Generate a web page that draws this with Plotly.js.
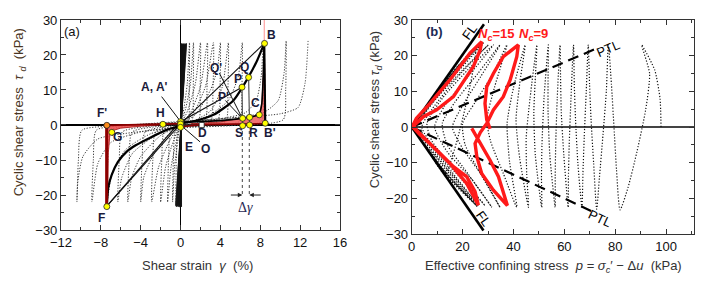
<!DOCTYPE html>
<html><head><meta charset="utf-8">
<script src="https://cdn.plot.ly/plotly-3.0.1.min.js"></script>
<style>html,body{margin:0;padding:0;background:#fff}#chart{width:709px;height:289px}</style>
</head><body><div id="chart"></div>
<script>
// ================= Panel (a): shear strain vs cyclic shear stress =================
// dense early cycles near the origin (gamma %, tau kPa)
const coreGamma = [0.00, 0.02, 0.10, 0.06, 0.05, 0.10, 0.00, 0.14, -0.05, 0.18, -0.10, 0.22, -0.14, 0.26, -0.18, 0.30, -0.22, 0.35, -0.27, 0.40, -0.32, 0.45, -0.37, 0.50, -0.42, 0.55, -0.47, 0.60, -0.50];
const coreTau   = [0, 23.2, -23.4, 23.0, -23.2, 23.3, -23.0, 23.1, -23.5, 23.2, -23.3, 23.0, -23.1, 23.3, -23.4, 23.1, -23.0, 23.2, -23.3, 23.0, -23.2, 23.3, -23.1, 23.1, -23.4, 23.2, -23.0, 23.3, -23.0];

// later hysteresis loops [gamma, tau]
const loopPath = [
  [-0.5,-23],
  [-0.42,-10],[-0.3,-2],[0,0],[0.35,5],[0.68,12],[0.9,23.5],
  [0.87,10],[0.76,1],[0,-0.2],[-0.3,-5],[-0.6,-12],[-0.8,-22],
  [-0.72,-10],[-0.55,-2],[0,0.1],[0.5,4.5],[1.0,12],[1.3,23.5],
  [1.27,10],[1.12,1],[0,-0.2],[-0.45,-5],[-0.95,-12],[-1.3,-22],
  [-1.2,-10],[-1.0,-2],[0,0.2],[0.7,4],[1.5,12],[2.0,23.5],
  [1.96,10],[1.8,1],[0,-0.3],[-0.7,-4.5],[-1.5,-12],[-2.0,-22],
  [-1.88,-10],[-1.65,-2],[0,0.3],[1.0,3.5],[2.0,11],[2.7,23.5],
  [2.65,10],[2.45,1],[0,-0.3],[-1.0,-4],[-2.2,-12],[-2.9,-22],
  [-2.78,-10],[-2.5,-2],[0,0.3],[1.2,3],[2.5,11],[3.3,23.5],
  [3.25,10],[3.0,1],[0,-0.4],[-1.5,-3.5],[-3,-10],[-3.7,-15],[-4.0,-22],
  [-3.85,-10],[-3.55,-2],[0,0.4],[1.5,3],[3.0,10],[3.7,16],[4.0,23.5],
  [3.95,10],[3.7,1],[0,-0.4],[-2,-3],[-4,-9],[-4.9,-15],[-5.3,-22],
  [-5.15,-10],[-4.85,-2],[-1,0],[1,0.8],[3,4],[4.2,11],[4.8,23.5],
  [4.75,10],[4.5,1],[0,-0.5],[-2.5,-3],[-4.8,-8],[-5.9,-15],[-6.3,-22],
  [-6.15,-10],[-5.85,-2],[-2,0],[1,0.8],[3,3],[4.8,7],[5.8,14],[6.2,23.5],
  [6.15,10],[5.9,1],[2,-0.3],[0,-0.5],[-3,-2.5],[-5.5,-7],[-6.9,-14],[-7.4,-22.5],
  [-7.3,-10],[-7.05,-1.5],[-4,0.1],[0,0.7],[4,1.8],[6.5,3.5],[7.6,7],[8.1,14],[8.3,23.5],
  [8.28,10],[8.1,1],[4,-0.2],[0,-0.6],[-4,-2],[-7,-5],[-8.3,-11],[-8.9,-22],
  [-8.75,-10],[-8.45,-1.5],[-5,0],[0,0.8],[5,2],[8.3,3.5],[9.8,7],[10.4,15],[10.6,24],
  [10.55,10],[10.3,1.5],[5,-0.2],[0,-0.8],[-5,-2.2],[-8.3,-4],[-9.8,-9],[-10.3,-16],[-10.4,-22],
  [-10.25,-10],[-9.9,-1.5],[-6,-0.2],[0,1],[6,2.2],[10,3.2],[11.8,5],[12.5,12],[12.8,24]
];

// highlighted cycle F -> F' -> ... -> B -> B'
const redLeftArea  = [[-7.45,-0.1],[-4,0.1],[-1.8,0.25],[-1.8,0.05],[-4,-0.35],[-6,-0.9],[-6.8,-1.6],[-7.1,-3],[-7.25,-8],[-7.3,-20],[-7.4,-23.2],[-7.52,-23.2],[-7.52,-0.1]];
const redRightArea = [[1,0.3],[4,0.9],[6.2,2.0],[7.4,2.6],[7.9,3.1],[8.15,6],[8.3,14],[8.4,23.3],[8.47,12],[8.5,0.4],[5,0.3],[1,0.3]];
const pathFF = [[-7.4,-23.2],[-7.4,-0.1]];
const pathFH = [[-7.4,-0.1],[-4,0.1],[-1.8,0.2],[0,0.4]];
const pathBDE = [[8.5,0.4],[5,0.3],[2.1,0.05],[0,-0.5]];
const pathAC_B = [[0,0.8],[3,1.1],[6.2,1.9],[7.4,2.5],[7.9,3.0],[8.15,6],[8.3,14],[8.4,23.3]];
const pathBB = [[8.4,23.3],[8.45,10],[8.5,0.4]];
const redAboveB = [[8.4,23.3],[8.4,30]];
const curveEF = [[0,-0.3],[-1.4,-1.4],[-3.1,-3.7],[-4.5,-5.8],[-5.4,-7.6],[-6.3,-10.6],[-6.9,-14.2],[-7.25,-17.8],[-7.4,-23.2]];
const curveOB = [[0,0.5],[1.5,1.2],[3.3,2.9],[5.3,7.0],[6.8,13.6],[7.7,18.5],[8.4,23.3]];
const secantF1 = [[-7.4,-23.2],[0,0.3]];
const secantF2 = [[-7.4,-23.2],[0,1.1]];
const secantB1 = [[8.4,23.3],[0,0.3]];
const secantP  = [[0,0.9],[6.17,10.8]];
const vertS = [[6.23,-0.2],[6.17,10.8]];
const vertR = [[6.93,0],[6.83,13.6]];
const dropS = [[6.2,0],[6.2,-20.5]];
const dropR = [[6.9,0],[6.9,-20.5]];
const leaderQ = [[3.9,14.8],[6.2,1.9]];
const leaderP = [[4.5,7.0],[6.1,2.2]];
const leaderA = [[-1.9,8.1],[0,1.0]];
const leaderO = [[1.95,-4.8],[0,0]];

const yellowPts = [[8.43,23.3],[-7.4,-23.3],[-6.9,-2.1],[-1.77,0.2],[0,0.95],[0,0.3],[0,-0.67],[6.23,-0.2],[6.23,1.9],[6.93,0],[6.93,2.2],[7.9,2.9],[8.5,0.5],[6.17,10.8],[6.83,13.6]];
const orangePts = [[-7.4,-0.1]];
const whitePts = [[2.12,0]];
const ptLabels = [
  ['B',9.15,25.7],["B'",9.0,-2.4],['C',7.5,6.2],['Q',6.4,16.7],['P',5.8,13.1],["Q'",3.6,16.2],["P'",4.3,8.1],
  ['S',5.9,-2.3],['R',7.3,-2.3],['D',2.2,-2.3],['O',2.55,-6.9],['E',0.8,-6.2],['H',-2.06,3.4],
  ["A, A'",-2.6,10.9],["F'",-7.9,3.5],['G',-6.3,-3.3],['F',-7.9,-26.7]
];

// ================= Panel (b): stress path =================
const stressPath = [
  [98,0],[97.6,8],[95.5,16],[90.4,23],
  [93.5,15],[92,5],[88.5,-7],[85,-17],[81.9,-23.2],
  [80.5,-12],[79.5,0],[78.5,12],[77.3,23],
  [76.5,10],[75.2,-2],[73.8,-14],[72.7,-23],
  [71.5,-10],[70.5,2],[69.9,12],[69.4,23],
  [68.6,10],[67.8,-3],[67.3,-13],[66.9,-22.5],
  [65.3,-10],[64.4,2],[63.9,12],[63.6,23],
  [62.6,8],[61.9,-5],[61.6,-14],[61.5,-22.5],
  [59.8,-8],[58.8,4],[58.5,14],[58.3,23],
  [57.2,8],[56.6,-5],[56.4,-14],[56.4,-22.5],
  [54.3,-8],[53.6,4],[53.6,14],[53.7,23],
  [52,8],[51.2,-5],[51,-14],[51.1,-22.5],
  [48.6,-8],[48,4],[48.6,14],[49.2,23],
  [46.5,8],[45,-3],[45.2,-13],[45.9,-22.5],
  [42.5,-9],[41,2],[42.6,13],[44.6,23],
  [40,11],[37.5,1],[38.5,-10],[41.3,-22.5],
  [36,-13],[31,-4],[29.5,2],[32.5,11],[37.4,23],
  [32,15],[25,7],[20,1],[21,-5],[27,-13],[34.7,-22.5],
  [28,-14],[20,-6],[16,0],[20,6],[27,14],[34.7,23],
  [26,15],[17,7],[12,1],[14,-5],[22,-13],[31.5,-22.5],
  [24,-15],[14,-7],[9,0],[13,6],[22,14],[32.1,23],
  [22,16],[12,8],[6,1],[8,-4],[17,-12],[28.8,-22],
  [20,-15],[10,-7],[4,0],[8,5],[18,14],[30.1,23],
  [20,16],[8,6.5],[3,1],[5,-3],[14,-11],[26.2,-22],
  [18,-15],[7,-6],[2,0],[5,4],[15,13],[28.2,23.5],
  [18,17],[6,5.5],[1,0.5],[3,-2],[12,-10],[25,-21.5],
  [15,-14],[5,-5],[1,0],[4,3],[14,12.5],[26,22.5],
  [15,14.5],[5,4.5],[0.8,0.5],[2,-2],[10,-9],[24,-21],
  [14,-14],[4,-4],[0.5,0],[3,2.8],[12,11.5],[25,22],
  [13,-13],[4,-3.5],[0.4,0],[3,2.9],[13,12.5],[26.5,23.5],
  [16,15],[6,5.8],[0.5,0.4],[2.5,-2.4],[11,-10.8],[25.5,-22],
  [14,-13.5],[3,-2.8],[0.3,0],[2,1.9],[11,10.5],[27,23],
  [17,16],[5,4.9],[0.3,0.2],[2,-1.9],[12,-11.8],[26,-22.5]
];
const cycle15 = [[1,0.5],[4.6,2.9],[9.8,4.8],[16.4,8.5],[24.2,16.9],[26.9,21.6],[27.5,23.9],[22.9,20.7],[15,13.2],[7.2,6.6],[1.8,2.4],[0.5,0.5],
  [2,-1],[7.2,-4.6],[15,-10.2],[21.6,-15.8],[26.2,-21.9],[24.9,-18.1],[21.6,-13.9],[16.4,-11.1],[9.8,-6.4],[3,-2],[0.5,0]];
const cycle9 = [[23.6,-0.4],[27.5,-5],[30.8,-9.3],[34.1,-13.9],[36.7,-19.5],[37.6,-22],[32.1,-17.7],[27.5,-13],[25.6,-8.3],[24.9,-4.6],[27,-1.5],[29.5,1],
  [32.1,4.8],[36,8.5],[38.7,13.2],[41.3,19.7],[41.9,23],[36,19.7],[32.1,15],[29.5,11.3],[28.8,6.6],[29.5,2],[30.8,-0.5]];
const flUpper = [[0,0],[28.4,28.8]];
const flLower = [[0,0],[28.2,-29]];
const ptlUpper = [[0,0],[72,21.8]];
const ptlLower = [[0,0],[70.5,-23.5]];

// ================= build traces =================
const xs = a => a.map(p => p[0]);
const ys = a => a.map(p => p[1]);
function line(pts, color, width, dash, ax, shape) {
  return {x: xs(pts), y: ys(pts), type: 'scatter', mode: 'lines', xaxis: ax === 2 ? 'x2' : 'x', yaxis: ax === 2 ? 'y2' : 'y',
    line: {color: color, width: width, dash: dash || 'solid', shape: shape || 'linear', smoothing: 0.6}, hoverinfo: 'skip'};
}
function area(pts, fill, outline) {
  return {x: xs(pts), y: ys(pts), type: 'scatter', mode: 'lines', fill: 'toself', fillcolor: fill,
    line: {color: outline, width: 0.8}, xaxis: 'x', yaxis: 'y', hoverinfo: 'skip'};
}
function markers(pts, fill, symbol, size) {
  return {x: xs(pts), y: ys(pts), type: 'scatter', mode: 'markers', xaxis: 'x', yaxis: 'y',
    marker: {color: fill, size: size, symbol: symbol, line: {color: '#222', width: 0.8}}, hoverinfo: 'skip'};
}

const traces = [
  {x: coreGamma, y: coreTau, type: 'scatter', mode: 'lines', line: {color: '#111', width: 0.7}, xaxis: 'x', yaxis: 'y', hoverinfo: 'skip'},
  line(loopPath, '#3a3a3a', 1, '1.2px,1.6px', 1, 'spline'),
  area(redLeftArea, 'rgba(238,80,80,0.9)', '#a01010'),
  area(redRightArea, 'rgba(238,90,90,0.85)', '#a01010'),
  line(redAboveB, '#ff9090', 1),
  line(secantF1, '#111', 1.1), line(secantF2, '#111', 1.1), line(secantB1, '#111', 1.1), line(secantP, '#111', 1.1),
  line(curveEF, '#000', 2.2, 'solid', 1, 'spline'), line(curveOB, '#000', 2.2, 'solid', 1, 'spline'),
  line(pathAC_B, '#000', 1.6, 'solid', 1, 'spline'), line(pathBB, '#000', 2.2),
  line(pathFF, '#8b0000', 2.6), line(pathFH, '#8b0000', 1.6), line(pathBDE, '#8b0000', 1.4),
  line(vertS, '#555', 1.2), line(vertR, '#555', 1.2),
  line(dropS, '#444', 1, 'dot'), line(dropR, '#444', 1, 'dot'),
  line(leaderQ, '#111', 1), line(leaderP, '#111', 1), line(leaderA, '#111', 1), line(leaderO, '#111', 1),
  markers(yellowPts, '#ffff00', 'circle', 6),
  markers(orangePts, '#ff8c1a', 'circle', 6),
  markers(whitePts, '#ffffff', 'square', 5),
  // panel b
  line(stressPath, '#111', 1.2, '1.2px,1.8px', 2, 'spline'),
  line(ptlUpper, '#000', 2.2, '11px,6px', 2),
  line(ptlLower, '#000', 2.2, '11px,6px', 2),
  line(flUpper, '#000', 2.6, 'solid', 2),
  line(flLower, '#000', 2.6, 'solid', 2),
  line(cycle15, '#ff1a1a', 3.4, 'solid', 2),
  line(cycle9, '#ff1a1a', 3.4, 'solid', 2)
];

const sans = 'Liberation Sans, Arial, sans-serif';
const labelFont = {family: sans, size: 12, color: '#1a1a3a'};
const annotations = ptLabels.map(l => ({x: l[1], y: l[2], xref: 'x', yref: 'y', xanchor: 'center', yanchor: 'middle', text: '<b>' + l[0] + '</b>', showarrow: false, font: labelFont}));

function note(o) { return Object.assign({showarrow: false, xanchor: 'center', yanchor: 'middle'}, o); }

annotations.push(
  note({x: -10.85, y: 26.6, xref: 'x', yref: 'y', text: '(a)', font: {family: sans, size: 13, color: '#111'}}),
  {x: 6.2, y: -20, ax: 4.9, ay: -20, xref: 'x', yref: 'y', axref: 'x', ayref: 'y', text: '', showarrow: true, arrowhead: 2, arrowsize: 0.9, arrowwidth: 1, arrowcolor: '#222'},
  {x: 6.9, y: -20, ax: 8.2, ay: -20, xref: 'x', yref: 'y', axref: 'x', ayref: 'y', text: '', showarrow: true, arrowhead: 2, arrowsize: 0.9, arrowwidth: 1, arrowcolor: '#222'},
  note({x: 6.55, y: -23.6, xref: 'x', yref: 'y', text: '\u0394<i>\u03b3</i>', font: {family: 'Liberation Serif, Times New Roman, serif', size: 14, color: '#2a2a55'}}),
  note({x: 9, y: 26.7, xref: 'x2', yref: 'y2', text: '<b>(b)</b>', font: {family: sans, size: 13, color: '#1a2a55'}}),
  note({x: 33.4, y: 25.9, xref: 'x2', yref: 'y2', text: '<b><i>N</i><sub><i>c</i></sub>=15</b>', font: {family: sans, size: 13, color: '#ff1a1a'}}),
  note({x: 48, y: 25.9, xref: 'x2', yref: 'y2', text: '<b><i>N</i><sub><i>c</i></sub>=9</b>', font: {family: sans, size: 13, color: '#ff1a1a'}}),
  note({x: 22.9, y: 26.7, xref: 'x2', yref: 'y2', text: 'FL', textangle: -54.5, font: {family: sans, size: 13, color: '#000'}}),
  note({x: 28.2, y: -25.6, xref: 'x2', yref: 'y2', text: 'FL', textangle: 54.5, font: {family: sans, size: 13, color: '#000'}}),
  note({x: 77.3, y: 22.1, xref: 'x2', yref: 'y2', text: 'PTL', textangle: -23, font: {family: sans, size: 13, color: '#000'}}),
  note({x: 74, y: -25.6, xref: 'x2', yref: 'y2', text: 'PTL', textangle: 25, font: {family: sans, size: 13, color: '#000'}}),
  // axis titles
  note({x: 0.279, y: 0.08, xref: 'paper', yref: 'paper', text: 'Shear strain\u00a0\u00a0<i>\u03b3</i>\u00a0\u00a0(%)',
   font: {family: sans, size: 13, color: '#333'}}),
  note({x: 0.027, y: 0.612, xref: 'paper', yref: 'paper', text: 'Cyclic shear stress\u00a0\u00a0<i>\u03c4</i>\u00a0<sub><i>d</i></sub>\u00a0\u00a0(kPa)', textangle: -90,
   font: {family: sans, size: 13, color: '#4a3522'}}),
  note({x: 0.78, y: 0.077, xref: 'paper', yref: 'paper', text: 'Effective confining stress\u00a0\u00a0<i>p</i> = <i>\u03c3<sub>c</sub></i>\u2032 \u2212 \u0394<i>u</i>\u00a0\u00a0(kPa)',
   font: {family: sans, size: 13, color: '#333'}}),
  note({x: 0.529, y: 0.619, xref: 'paper', yref: 'paper', text: 'Cyclic shear stress <i>\u03c4<sub>d</sub></i> (kPa)', textangle: -90,
   font: {family: sans, size: 13, color: '#333'}})
);

const tickFont = {family: sans, size: 13, color: '#111'};
const axisBase = {showgrid: false, showline: true, linecolor: '#333', linewidth: 1, mirror: 'ticks', ticks: 'inside', ticklen: 5, tickcolor: '#333', tickfont: tickFont};

const layout = {
  width: 709, height: 289, margin: {l: 0, r: 0, t: 0, b: 0}, paper_bgcolor: '#fff', plot_bgcolor: '#fff',
  showlegend: false, hovermode: false,
  xaxis: Object.assign({}, axisBase, {domain: [0.086, 0.4795], range: [-12, 16], tick0: 0, dtick: 4, anchor: 'y',
    zeroline: true, zerolinecolor: '#000', zerolinewidth: 1.5, minor: {dtick: 2, ticks: 'inside', ticklen: 3, tickcolor: '#333'}}),
  yaxis: Object.assign({}, axisBase, {domain: [0.204, 0.931], range: [-30, 30], dtick: 10, anchor: 'x',
    zeroline: true, zerolinecolor: '#000', zerolinewidth: 1.5, minor: {dtick: 5, ticks: 'inside', ticklen: 3, tickcolor: '#333'}}),
  xaxis2: Object.assign({}, axisBase, {domain: [0.5807, 0.979], range: [0, 111], dtick: 20, anchor: 'y2', zeroline: false,
    minor: {dtick: 10, ticks: 'inside', ticklen: 3, tickcolor: '#333'}}),
  yaxis2: Object.assign({}, axisBase, {domain: [0.19, 0.931], range: [-30, 30], dtick: 10, anchor: 'x2',
    zeroline: true, zerolinecolor: '#444', zerolinewidth: 1.5, minor: {dtick: 5, ticks: 'inside', ticklen: 3, tickcolor: '#333'}}),
  annotations: annotations
};

Plotly.newPlot('chart', traces, layout, {staticPlot: true, displayModeBar: false});
</script>
</body></html>
